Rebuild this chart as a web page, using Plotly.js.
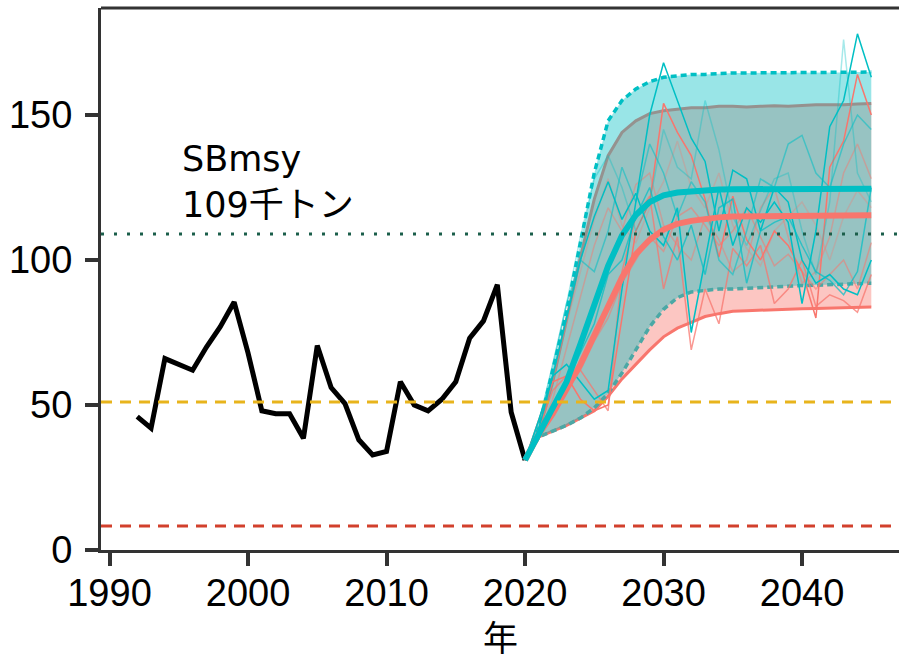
<!DOCTYPE html>
<html>
<head>
<meta charset="utf-8">
<script src="https://cdn.plot.ly/plotly-3.0.1.min.js"></script>
<style>html,body{margin:0;padding:0;background:#fff;}#chart{width:899px;height:660px;}</style>
</head>
<body>
<div id="chart"></div>
<script>
// ---- data ----
const histYears = [1992,1993,1994,1995,1996,1997,1998,1999,2000,2001,2002,2003,2004,2005,2006,2007,2008,2009,2010,2011,2012,2013,2014,2015,2016,2017,2018,2019,2020];
const histSB = [46,42,66,64,62,70,77,85.5,68,48,47,47,38.5,70.5,56,50.5,38,32.8,34,58,50,48,52,58,73,79,91.5,47.5,31];

const projYears = [2020,2021,2022,2023,2024,2025,2026,2027,2028,2029,2030,2031,2032,2033,2034,2035,2036,2037,2038,2039,2040,2041,2042,2043,2044,2045];

const redMedian  = [31,40,47,55,64,74,84,94,102,107,110.5,112.5,113.5,114.3,114.7,115,115,115,115,115.2,115.2,115.3,115.3,115.3,115.4,115.4];
const redUpper   = [31,41,58,80,101,121,136,144,148,150.5,151.5,152,152.5,152.5,153,153,152.8,153,153.2,153,153.3,153.5,153.5,153.5,153.8,154];
const redLower   = [31,39,41,43,45.5,48,53,59,64,69,73.5,76.5,78.5,80.5,81.5,82.3,82.5,82.7,83,83,83.2,83.3,83.4,83.5,83.7,83.8];

const cyanMedian = [31,40,49,58,71,85,98,108.5,115.5,120,122.3,123.3,123.8,124.1,124.3,124.4,124.4,124.5,124.5,124.5,124.5,124.6,124.6,124.6,124.6,124.6];
const cyanUpper  = [31,42,62,82,106,130,148,155,159,161.5,163,163.5,164,164,164.3,164.5,164.5,164.5,164.6,164.6,164.6,164.6,164.7,164.7,164.8,164.8];
const cyanLower  = [31,39,41,43,45.5,49,54,61,69,77,83,87,89,89.5,90,90,90.3,90.5,90.8,91,91.2,91.3,91.5,91.6,91.8,92];

const cyanRun1 = [31,42,60,64,58,52,55,90,120,150,168,155,142,134,110,131,128,110,125,120,100,92,95,90,88,100];
const cyanRun2 = [31,45,60,80,100,115,127,114,123,110,105,118,75,100,125,105,118,113,120,113,85,110,146,155,178,163];
const cyanRun3 = [31,44,64,85,100,96,110,132,120,140,130,115,127,120,100,95,110,128,125,140,143,130,125,140,150,145];
const cyanRun4 = [31,43,62,85,108,128,136,125,110,120,145,132,128,155,138,115,105,117,128,130,110,95,120,176,130,120];
const cyanRun5 = [31,40,50,58,68,78,95,100,115,125,108,100,112,95,118,121,92,110,113,115,105,96,93,88,96,125];

const redRun1 = [31,45,58,60,52,48,50,80,110,120,154,144,136,121,101,122,107,100,110,105,96,80,132,141,164,150];
const redRun2 = [31,42,55,60,62,55,48,96,115,122,90,108,69,90,78,104,98,105,85,90,100,84,88,86,82,95];
const redRun3 = [31,40,52,70,88,105,118,110,126,130,112,105,100,115,107,96,100,118,125,108,92,96,108,130,140,128];
const redRun4 = [31,42,58,78,96,114,128,112,106,118,127,141,125,118,130,112,104,98,110,115,120,112,100,115,124,118];
const redRun5 = [31,41,48,55,62,72,80,92,100,108,103,115,118,112,105,110,118,108,98,102,96,90,95,100,90,106];

const refLines = {SBmsy:109, SBlimit:51, SBban:8.3};
const xTicks = [1990,2000,2010,2020,2030,2040];
const yTicks = [0,50,100,150];
const xAxisTitle = '年';

// ---- styles ----
const RED = '#F8766D', CYAN = '#00BFC4';
const traces = [];
function ln(y, color, width, dash, extra){
  return Object.assign({x: projYears, y: y, type:'scatter', mode:'lines', hoverinfo:'skip',
    line:{color:color, width:width, dash:dash||'solid'}}, extra||{});
}
// red band
traces.push(ln(redLower, 'rgba(0,0,0,0)', 0));
traces.push(ln(redUpper, RED, 3, 'solid', {fill:'tonexty', fillcolor:'rgba(248,118,109,0.42)'}));
traces.push(ln(redLower, RED, 3));
// cyan band
traces.push(ln(cyanLower, 'rgba(0,0,0,0)', 0));
traces.push(ln(cyanUpper, 'rgba(0,0,0,0)', 0, 'solid', {fill:'tonexty', fillcolor:'rgba(0,191,196,0.4)'}));
traces.push(ln(cyanUpper, CYAN, 3.5, '6px,4px'));
traces.push(ln(cyanLower, '#4BA8A5', 3.5, '6px,4px'));
// individual runs
const redRuns = [[redRun1,1],[redRun2,0.75],[redRun3,0.45],[redRun4,0.3],[redRun5,0.55]];
const cyanRuns = [[cyanRun1,1],[cyanRun2,1],[cyanRun3,0.55],[cyanRun4,0.35],[cyanRun5,0.7]];
redRuns.forEach(r => traces.push(ln(r[0], 'rgba(248,118,109,'+r[1]+')', 1.5)));
cyanRuns.forEach(r => traces.push(ln(r[0], 'rgba(0,191,196,'+r[1]+')', 1.5)));
// historical
traces.push({x: histYears, y: histSB, type:'scatter', mode:'lines', hoverinfo:'skip',
  line:{color:'#000', width:5}});
// medians
traces.push(ln(redMedian, RED, 6));
traces.push(ln(cyanMedian, CYAN, 6));

const axisCommon = {
  showline:true, linewidth:3, linecolor:'#333', ticks:'outside', ticklen:13, tickwidth:4, tickcolor:'#333',
  showgrid:false, zeroline:false,
  tickfont:{family:'Liberation Sans, Arial, sans-serif', size:38, color:'#000'}
};

const layout = {
  width:899, height:660,
  margin:{l:101, r:0, t:8, b:110},
  paper_bgcolor:'#fff', plot_bgcolor:'#fff',
  showlegend:false,
  xaxis: Object.assign({}, axisCommon, {range:[1989.386, 2047.0], tickmode:'array', tickvals:xTicks,
    ticklabelstandoff:-6}),
  yaxis: Object.assign({}, axisCommon, {range:[0, 186.9], tickmode:'array', tickvals:yTicks,
    ticklabelstandoff:5}),
  shapes:[
    {type:'line', xref:'paper', x0:0, x1:1, yref:'y', y0:refLines.SBmsy, y1:refLines.SBmsy, layer:'above',
      line:{color:'#1B5E4A', width:3, dash:'3px,10px'}},
    {type:'line', xref:'paper', x0:0, x1:1, yref:'y', y0:refLines.SBlimit, y1:refLines.SBlimit, layer:'above',
      line:{color:'#E8B41C', width:3, dash:'11px,8px'}},
    {type:'line', xref:'paper', x0:0, x1:1, yref:'y', y0:refLines.SBban, y1:refLines.SBban, layer:'above',
      line:{color:'#D2402C', width:3, dash:'11px,8px'}},
    {type:'line', xref:'paper', x0:0, x1:1, yref:'paper', y0:1, y1:1, layer:'above',
      line:{color:'#333', width:3}}
  ],
  annotations:[
    {x:1995.1, y:142.5, xref:'x', yref:'y', xanchor:'left', yanchor:'top', align:'left', showarrow:false,
     text:'SBmsy<br>109千トン', font:{family:'DejaVu Sans, Noto Sans CJK JP', size:35, color:'#000'}},
    {x:0.5, y:-0.157, xref:'paper', yref:'paper', xanchor:'center', yanchor:'middle', showarrow:false,
     text:xAxisTitle, font:{family:'Noto Sans CJK JP', size:35, color:'#000'}}
  ]
};

Plotly.newPlot('chart', traces, layout, {displayModeBar:false, staticPlot:true});
</script>
</body>
</html>
